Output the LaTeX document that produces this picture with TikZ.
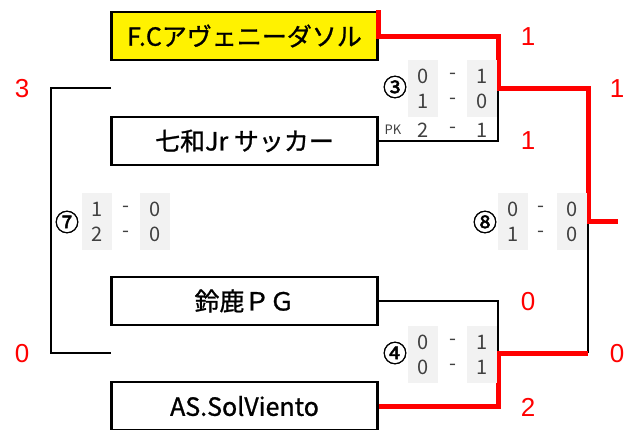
\documentclass[tikz,border=0pt]{standalone}
\usepackage{fontspec}
\setmainfont{Noto Sans CJK JP}
\newfontfamily\teamfont[FakeBold=1]{Noto Sans CJK JP}
\newfontfamily\circfont[FakeBold=2]{Noto Sans CJK JP}
\newfontfamily\goalfont{Liberation Sans}
\usepackage{xcolor}
\usepackage{tikz}

\definecolor{cellgray}{HTML}{F2F2F2}
\definecolor{digitgray}{HTML}{404040}
\definecolor{winred}{HTML}{FF0000}

\begin{document}
\begin{tikzpicture}[x=1pt,y=-1pt,
    team/.style={draw,line width=2.2pt,minimum width=266pt,minimum height=48pt,inner sep=0pt,font=\teamfont\fontsize{25}{25}\selectfont},
    line/.style={line width=2.2pt},
    win/.style={line width=5pt,draw=winred},
    goals/.style={text=winred,font=\goalfont\fontsize{26}{26}\selectfont},
    cell/.style={fill=cellgray,minimum width=30pt,minimum height=57pt,inner sep=0pt,align=center,text=digitgray,font=\fontsize{20}{25}\selectfont},
    hyph/.style={inner sep=0pt,align=center,text=digitgray,font=\fontsize{20}{25}\selectfont},
    pkrow/.style={inner sep=0pt,text=digitgray,font=\fontsize{20}{20}\selectfont},
    circnum/.style={inner sep=0pt,font=\circfont\fontsize{24}{24}\selectfont}]
    \useasboundingbox (0,0) rectangle (643,429);

    % teams
    \node[team,fill=yellow] (t1) at (244.5,36) {F.Cアヴェニーダソル};
    \node[team] (t2) at (244.5,141) {七和Jr サッカー};
    \node[team] (t3) at (244.5,301) {鈴鹿ＰＧ};
    \node[team] (t4) at (244.5,406) {AS.SolViento};

    % bracket points
    \coordinate (m3) at (498,88);
    \coordinate (m4) at (498,353);
    \coordinate (m7) at (51,221);
    \coordinate (m8) at (588,221);
    \coordinate (w3) at (111,88);
    \coordinate (w4) at (111,353);
    \coordinate (f4) at (588,353);
    \coordinate (champ) at (618,221);
    \coordinate (top1) at (378,10);

    \draw[line] (t2.east) -| (m3);
    \draw[line] (t3.east) -| (m4);
    \draw[line] (w3) -| (m7) |- (w4);
    \draw[line] (f4) -- (m8);
    \draw[win] (top1) |- (t1.east) -| (m3) -| (m8) -- (champ);
    \draw[win] (t4.east) -| (m4) -- (f4);

    % goals
    \node[goals] (g1) at (528,37) {1};
    \node[goals] (g2) at (528,141) {1};
    \node[goals] (g3) at (528,302) {0};
    \node[goals] (g4) at (528,407) {2};
    \node[goals] (g5) at (617,89) {1};
    \node[goals] (g6) at (617,354) {0};
    \node[goals] (g7) at (22,89) {3};
    \node[goals] (g8) at (22,354) {0};

    % match 3
    \node[circnum] (n3) at (395,87) {③};
    \node[cell] (c3a) at (423,88.5) {0\\1};
    \node[hyph] (d3) at (453,88.5) {-\\-};
    \node[cell] (c3b) at (482,88.5) {1\\0};
    \node[pkrow,font=\fontsize{13}{13}\selectfont] (pk3) at (393,130) {PK};
    \node[pkrow] (k3a) at (423,130) {2};
    \node[pkrow] (k3d) at (453,130) {-};
    \node[pkrow] (k3b) at (482,130) {1};

    % match 4
    \node[circnum] (n4) at (395,353) {④};
    \node[cell] (c4a) at (423,354.5) {0\\0};
    \node[hyph] (d4) at (453,354.5) {-\\-};
    \node[cell] (c4b) at (482,354.5) {1\\1};

    % match 7
    \node[circnum] (n7) at (67,222) {⑦};
    \node[cell] (c7a) at (97,221.5) {1\\2};
    \node[hyph] (d7) at (126,221.5) {-\\-};
    \node[cell] (c7b) at (155,221.5) {0\\0};

    % match 8
    \node[circnum] (n8) at (485,222) {⑧};
    \node[cell] (c8a) at (513,221.5) {0\\1};
    \node[hyph] (d8) at (541,221.5) {-\\-};
    \node[cell] (c8b) at (572,221.5) {0\\0};
\end{tikzpicture}
\end{document}
